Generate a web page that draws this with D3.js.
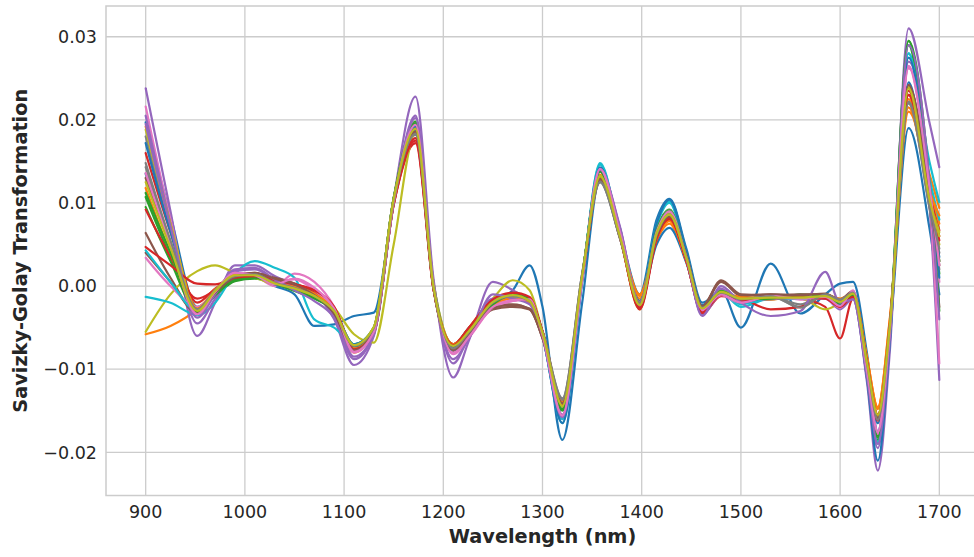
<!DOCTYPE html>
<meta charset="utf-8">
<style>

body {
    margin: 0;
    background: #fff;
}

text {
    font-family: "DejaVu Sans", sans-serif;
    fill: #262626;
}

.tick-label {
    font-size: 17.5px;
}

.axis-label {
    font-size: 19.3px;
    font-weight: bold;
}

.grid line {
    stroke: #cccccc;
    stroke-width: 1.3;
}

.spine {
    fill: none;
    stroke: #cccccc;
    stroke-width: 1.5;
}

.spectrum {
    fill: none;
    stroke-width: 2.2;
    stroke-linejoin: round;
    stroke-linecap: round;
}

</style>
<svg width="974" height="557"></svg>
<script src="https://d3js.org/d3.v7.min.js"></script>
<script>

var wavelengths = [900, 925, 952, 970, 990, 1010, 1030, 1050, 1070, 1090, 1110, 1130, 1150, 1172, 1190,
    1210, 1226, 1250, 1270, 1287, 1300, 1320, 1340, 1358, 1378, 1398, 1415, 1428, 1445, 1461, 1480,
    1500, 1530, 1560, 1585, 1600, 1613, 1627, 1638, 1650, 1669, 1690, 1700];

// Savizky-Golay transformed spectra, one array per sample
var s01 = [0.0197, 0.0085, -0.0025, -0.0008, 0.0010, 0.0012, 0.0000, -0.0010, -0.0048, -0.0046, -0.0036, -0.0032, 0.0100, 0.0195, 0.0005, -0.0070, -0.0050, -0.0020, -0.0005, 0.0025, -0.0025, -0.0185, -0.0020, 0.0130, 0.0065, -0.0010, 0.0080, 0.0105, 0.0045, -0.0020, -0.0005, -0.0050, 0.0027, -0.0033, -0.0010, 0.0003, 0.0005, -0.0080, -0.0175, -0.0060, 0.0190, 0.0070, -0.0010];
var s02 = [-0.0058, -0.0048, -0.0028, -0.0008, 0.0010, 0.0012, 0.0005, 0.0000, -0.0010, -0.0032, -0.0080, -0.0053, 0.0098, 0.0185, 0.0000, -0.0070, -0.0055, -0.0022, -0.0015, -0.0018, -0.0055, -0.0140, 0.0010, 0.0132, 0.0060, -0.0010, 0.0055, 0.0075, 0.0030, -0.0025, -0.0010, -0.0016, -0.0015, -0.0012, -0.0010, -0.0015, -0.0008, -0.0085, -0.0146, -0.0040, 0.0210, 0.0135, 0.0094];
var s03 = [0.0107, 0.0035, -0.0030, -0.0012, 0.0006, 0.0009, 0.0003, -0.0006, -0.0015, -0.0030, -0.0070, -0.0050, 0.0106, 0.0195, 0.0003, -0.0073, -0.0053, -0.0023, -0.0010, -0.0015, -0.0055, -0.0148, 0.0012, 0.0138, 0.0060, -0.0022, 0.0068, 0.0090, 0.0036, -0.0025, -0.0005, -0.0015, -0.0016, -0.0010, -0.0013, -0.0022, -0.0012, -0.0105, -0.0180, -0.0055, 0.0295, 0.0120, 0.0030];
var s04 = [0.0160, 0.0065, -0.0020, -0.0003, 0.0010, 0.0013, 0.0008, 0.0000, -0.0008, -0.0028, -0.0075, -0.0055, 0.0098, 0.0172, -0.0003, -0.0072, -0.0050, -0.0016, -0.0010, -0.0015, -0.0055, -0.0143, 0.0010, 0.0130, 0.0058, -0.0025, 0.0058, 0.0082, 0.0030, -0.0032, -0.0010, -0.0018, -0.0012, -0.0015, -0.0025, -0.0063, -0.0015, -0.0090, -0.0155, -0.0050, 0.0230, 0.0115, 0.0067];
var s05 = [0.0238, 0.0090, -0.0060, -0.0020, 0.0025, 0.0025, 0.0012, 0.0002, -0.0008, -0.0040, -0.0095, -0.0060, 0.0105, 0.0228, 0.0010, -0.0110, -0.0065, 0.0005, -0.0005, -0.0020, -0.0060, -0.0160, 0.0010, 0.0140, 0.0070, -0.0025, 0.0060, 0.0085, 0.0032, -0.0032, -0.0003, -0.0018, -0.0016, -0.0013, -0.0015, -0.0025, -0.0015, -0.0115, -0.0222, -0.0080, 0.0310, 0.0197, 0.0143];
var s06 = [0.0064, 0.0010, -0.0032, -0.0008, 0.0012, 0.0016, 0.0008, 0.0003, -0.0008, -0.0032, -0.0078, -0.0052, 0.0100, 0.0188, -0.0002, -0.0078, -0.0058, -0.0022, -0.0022, -0.0028, -0.0062, -0.0140, 0.0010, 0.0128, 0.0062, -0.0018, 0.0060, 0.0085, 0.0038, -0.0025, 0.0006, -0.0012, -0.0010, -0.0012, -0.0010, -0.0018, -0.0008, -0.0090, -0.0160, -0.0048, 0.0240, 0.0100, 0.0025];
var s07 = [0.0216, 0.0080, -0.0035, -0.0008, 0.0015, 0.0012, 0.0000, 0.0015, 0.0005, -0.0025, -0.0080, -0.0056, 0.0100, 0.0192, 0.0002, -0.0080, -0.0060, -0.0025, -0.0018, -0.0015, -0.0058, -0.0155, 0.0008, 0.0140, 0.0065, -0.0020, 0.0065, 0.0090, 0.0035, -0.0028, -0.0010, -0.0020, -0.0012, -0.0016, -0.0014, -0.0025, -0.0008, -0.0100, -0.0175, -0.0055, 0.0265, 0.0115, 0.0005];
var s08 = [0.0180, 0.0070, -0.0028, -0.0005, 0.0012, 0.0014, 0.0004, -0.0002, -0.0012, -0.0030, -0.0072, -0.0050, 0.0105, 0.0182, 0.0000, -0.0075, -0.0055, -0.0020, -0.0012, -0.0018, -0.0055, -0.0135, 0.0015, 0.0125, 0.0058, -0.0020, 0.0062, 0.0086, 0.0035, -0.0026, -0.0008, -0.0016, -0.0012, -0.0025, -0.0010, -0.0016, -0.0008, -0.0093, -0.0160, -0.0050, 0.0220, 0.0095, 0.0040];
var s09 = [-0.0055, -0.0010, 0.0018, 0.0025, 0.0016, 0.0010, 0.0002, -0.0003, -0.0010, -0.0026, -0.0058, -0.0068, 0.0050, 0.0185, 0.0005, -0.0070, -0.0050, -0.0015, 0.0007, -0.0005, -0.0055, -0.0145, 0.0012, 0.0132, 0.0060, -0.0028, 0.0063, 0.0087, 0.0034, -0.0026, -0.0006, -0.0015, -0.0015, -0.0015, -0.0028, -0.0020, -0.0008, -0.0090, -0.0158, -0.0052, 0.0240, 0.0105, 0.0050];
var s10 = [-0.0013, -0.0020, -0.0035, -0.0020, 0.0015, 0.0030, 0.0022, 0.0010, -0.0040, -0.0050, -0.0070, -0.0055, 0.0100, 0.0195, 0.0002, -0.0076, -0.0055, -0.0020, -0.0013, -0.0018, -0.0060, -0.0165, 0.0005, 0.0148, 0.0062, -0.0020, 0.0075, 0.0102, 0.0040, -0.0025, -0.0008, -0.0025, -0.0015, -0.0015, -0.0012, -0.0022, -0.0010, -0.0100, -0.0190, -0.0060, 0.0280, 0.0150, 0.0101];
var s11 = [0.0172, 0.0065, -0.0028, -0.0005, 0.0013, 0.0013, 0.0002, -0.0003, -0.0010, -0.0028, -0.0070, -0.0050, 0.0105, 0.0187, 0.0000, -0.0074, -0.0054, -0.0018, -0.0012, -0.0016, -0.0056, -0.0145, 0.0010, 0.0133, 0.0060, -0.0018, 0.0050, 0.0070, 0.0028, -0.0028, -0.0008, -0.0018, -0.0013, -0.0013, -0.0012, -0.0018, -0.0009, -0.0095, -0.0165, -0.0050, 0.0245, 0.0100, 0.0035];
var s12 = [0.0192, 0.0075, -0.0026, -0.0004, 0.0014, 0.0012, 0.0003, -0.0002, -0.0010, -0.0030, -0.0076, -0.0052, 0.0103, 0.0193, 0.0001, -0.0072, -0.0054, -0.0024, -0.0014, -0.0020, -0.0058, -0.0143, 0.0012, 0.0134, 0.0063, -0.0015, 0.0058, 0.0080, 0.0030, -0.0026, -0.0009, -0.0013, -0.0016, -0.0012, -0.0011, -0.0017, -0.0010, -0.0088, -0.0148, -0.0045, 0.0225, 0.0120, 0.0075];
var s13 = [0.0095, 0.0030, -0.0030, -0.0010, 0.0008, 0.0010, 0.0004, -0.0004, -0.0013, -0.0031, -0.0074, -0.0052, 0.0105, 0.0198, 0.0002, -0.0076, -0.0056, -0.0022, -0.0012, -0.0017, -0.0059, -0.0150, 0.0012, 0.0139, 0.0062, -0.0022, 0.0068, 0.0092, 0.0037, -0.0027, -0.0007, -0.0016, -0.0014, -0.0013, -0.0013, -0.0021, -0.0011, -0.0103, -0.0185, -0.0058, 0.0290, 0.0115, 0.0015];
var s14 = [0.0092, 0.0035, -0.0015, -0.0005, 0.0010, 0.0014, 0.0006, 0.0002, -0.0006, -0.0026, -0.0073, -0.0055, 0.0100, 0.0178, -0.0002, -0.0070, -0.0050, -0.0018, -0.0009, -0.0014, -0.0054, -0.0140, 0.0010, 0.0130, 0.0060, -0.0028, 0.0055, 0.0080, 0.0030, -0.0033, -0.0012, -0.0015, -0.0028, -0.0025, -0.0012, -0.0020, -0.0008, -0.0092, -0.0162, -0.0050, 0.0235, 0.0110, 0.0060];
var s15 = [0.0205, 0.0075, -0.0045, -0.0015, 0.0018, 0.0020, 0.0008, 0.0000, -0.0010, -0.0035, -0.0085, -0.0058, 0.0100, 0.0205, 0.0005, -0.0093, -0.0060, -0.0015, -0.0015, -0.0020, -0.0060, -0.0155, 0.0008, 0.0138, 0.0070, -0.0020, 0.0060, 0.0085, 0.0035, -0.0035, -0.0010, -0.0020, -0.0015, -0.0015, -0.0015, -0.0028, -0.0015, -0.0110, -0.0195, -0.0065, 0.0270, 0.0100, -0.0113];
var s16 = [0.0040, 0.0005, -0.0032, -0.0010, 0.0010, 0.0015, 0.0010, 0.0003, -0.0010, -0.0033, -0.0075, -0.0053, 0.0102, 0.0185, -0.0002, -0.0076, -0.0058, -0.0028, -0.0025, -0.0028, -0.0062, -0.0142, 0.0008, 0.0129, 0.0060, -0.0018, 0.0061, 0.0084, 0.0036, -0.0024, 0.0007, -0.0010, -0.0011, -0.0010, -0.0010, -0.0016, -0.0006, -0.0090, -0.0158, -0.0048, 0.0240, 0.0100, -0.0025];
var s17 = [0.0034, 0.0000, -0.0025, -0.0006, 0.0016, 0.0014, 0.0005, 0.0008, -0.0005, -0.0028, -0.0078, -0.0056, 0.0103, 0.0196, 0.0003, -0.0082, -0.0062, -0.0026, -0.0018, -0.0016, -0.0059, -0.0158, 0.0006, 0.0142, 0.0066, -0.0021, 0.0066, 0.0091, 0.0035, -0.0029, -0.0011, -0.0021, -0.0012, -0.0016, -0.0014, -0.0026, -0.0005, -0.0102, -0.0178, -0.0058, 0.0262, 0.0110, -0.0093];
var s18 = [0.0143, 0.0052, -0.0029, -0.0006, 0.0011, 0.0013, 0.0003, -0.0003, -0.0013, -0.0031, -0.0073, -0.0051, 0.0104, 0.0184, 0.0000, -0.0075, -0.0056, -0.0021, -0.0013, -0.0019, -0.0056, -0.0138, 0.0014, 0.0126, 0.0058, -0.0020, 0.0062, 0.0085, 0.0034, -0.0026, -0.0008, -0.0016, -0.0013, -0.0022, -0.0011, -0.0017, -0.0009, -0.0093, -0.0160, -0.0050, 0.0222, 0.0095, 0.0020];
var s19 = [0.0188, 0.0075, -0.0030, -0.0005, 0.0013, 0.0013, 0.0003, -0.0003, -0.0012, -0.0030, -0.0072, -0.0050, 0.0105, 0.0190, 0.0000, -0.0073, -0.0055, -0.0020, -0.0012, -0.0018, -0.0057, -0.0145, 0.0012, 0.0133, 0.0060, -0.0022, 0.0064, 0.0087, 0.0034, -0.0027, -0.0007, -0.0015, -0.0013, -0.0013, -0.0012, -0.0019, -0.0009, -0.0092, -0.0156, -0.0050, 0.0240, 0.0105, 0.0065];
var s20 = [0.0043, 0.0005, -0.0030, -0.0007, 0.0012, 0.0014, 0.0004, -0.0002, -0.0011, -0.0030, -0.0074, -0.0053, 0.0102, 0.0193, 0.0001, -0.0077, -0.0057, -0.0021, -0.0012, -0.0018, -0.0061, -0.0160, 0.0009, 0.0146, 0.0064, -0.0018, 0.0073, 0.0100, 0.0040, -0.0024, -0.0008, -0.0022, -0.0014, -0.0015, -0.0012, -0.0021, -0.0010, -0.0100, -0.0188, -0.0060, 0.0280, 0.0130, 0.0080];
var s21 = [0.0135, 0.0050, -0.0028, -0.0006, 0.0012, 0.0012, 0.0002, -0.0004, -0.0012, -0.0030, -0.0073, -0.0052, 0.0103, 0.0192, 0.0002, -0.0074, -0.0054, -0.0019, -0.0011, -0.0017, -0.0060, -0.0165, 0.0006, 0.0143, 0.0063, -0.0019, 0.0075, 0.0104, 0.0042, -0.0023, -0.0008, -0.0020, -0.0013, -0.0014, -0.0012, -0.0022, -0.0012, -0.0110, -0.0210, -0.0070, 0.0275, 0.0120, 0.0010];
var s22 = [0.0118, 0.0040, -0.0027, -0.0005, 0.0013, 0.0012, 0.0004, -0.0001, -0.0009, -0.0029, -0.0075, -0.0054, 0.0100, 0.0189, -0.0001, -0.0070, -0.0053, -0.0023, -0.0015, -0.0019, -0.0056, -0.0140, 0.0011, 0.0131, 0.0061, -0.0012, 0.0056, 0.0078, 0.0030, -0.0025, -0.0010, -0.0014, -0.0014, -0.0012, -0.0010, -0.0016, -0.0009, -0.0085, -0.0146, -0.0042, 0.0215, 0.0115, 0.0085];
var s23 = [0.0112, 0.0040, -0.0031, -0.0011, 0.0007, 0.0010, 0.0003, -0.0005, -0.0014, -0.0031, -0.0072, -0.0051, 0.0106, 0.0196, 0.0002, -0.0075, -0.0054, -0.0022, -0.0011, -0.0016, -0.0058, -0.0149, 0.0012, 0.0138, 0.0061, -0.0021, 0.0067, 0.0091, 0.0036, -0.0026, -0.0006, -0.0016, -0.0015, -0.0011, -0.0013, -0.0021, -0.0011, -0.0104, -0.0182, -0.0056, 0.0295, 0.0125, -0.0030];
var s24 = [0.0047, 0.0025, 0.0003, 0.0002, 0.0010, 0.0012, 0.0007, 0.0002, -0.0005, -0.0025, -0.0076, -0.0056, 0.0098, 0.0175, -0.0003, -0.0071, -0.0050, -0.0016, -0.0008, -0.0013, -0.0055, -0.0142, 0.0010, 0.0130, 0.0059, -0.0026, 0.0057, 0.0081, 0.0030, -0.0032, -0.0010, -0.0018, -0.0013, -0.0014, -0.0015, -0.0025, -0.0013, -0.0090, -0.0155, -0.0050, 0.0230, 0.0110, 0.0055];
var s25 = [0.0195, 0.0072, -0.0038, -0.0010, 0.0020, 0.0022, 0.0008, -0.0005, -0.0018, -0.0038, -0.0088, -0.0058, 0.0100, 0.0202, 0.0004, -0.0088, -0.0063, -0.0010, -0.0015, -0.0022, -0.0062, -0.0158, 0.0007, 0.0140, 0.0072, -0.0023, 0.0062, 0.0086, 0.0033, -0.0036, 0.0000, -0.0020, -0.0036, -0.0030, 0.0017, -0.0020, -0.0016, -0.0108, -0.0190, -0.0065, 0.0290, 0.0125, -0.0040];
var s26 = [0.0130, 0.0048, -0.0033, -0.0008, 0.0011, 0.0016, 0.0009, 0.0002, -0.0011, -0.0033, -0.0077, -0.0054, 0.0101, 0.0186, -0.0002, -0.0077, -0.0059, -0.0026, -0.0023, -0.0027, -0.0063, -0.0141, 0.0009, 0.0129, 0.0061, -0.0019, 0.0060, 0.0084, 0.0037, -0.0024, 0.0005, -0.0011, -0.0010, -0.0011, -0.0009, -0.0017, -0.0007, -0.0091, -0.0159, -0.0049, 0.0242, 0.0105, 0.0030];
var s27 = [0.0136, 0.0050, -0.0034, -0.0007, 0.0016, 0.0013, 0.0002, 0.0009, -0.0002, -0.0027, -0.0079, -0.0055, 0.0102, 0.0194, 0.0002, -0.0081, -0.0061, -0.0025, -0.0017, -0.0016, -0.0059, -0.0156, 0.0007, 0.0141, 0.0065, -0.0020, 0.0065, 0.0090, 0.0035, -0.0028, -0.0010, -0.0020, -0.0012, -0.0015, -0.0013, -0.0024, -0.0006, -0.0101, -0.0176, -0.0056, 0.0264, 0.0120, 0.0025];
var s28 = [0.0148, 0.0055, -0.0028, -0.0005, 0.0012, 0.0014, 0.0004, -0.0002, -0.0012, -0.0030, -0.0072, -0.0050, 0.0105, 0.0183, 0.0000, -0.0075, -0.0055, -0.0020, -0.0012, -0.0018, -0.0055, -0.0136, 0.0015, 0.0125, 0.0058, -0.0020, 0.0062, 0.0086, 0.0035, -0.0026, -0.0008, -0.0016, -0.0012, -0.0026, -0.0010, -0.0016, -0.0008, -0.0093, -0.0161, -0.0050, 0.0220, 0.0098, 0.0045];
var s29 = [0.0125, 0.0046, -0.0030, -0.0006, 0.0013, 0.0013, 0.0003, -0.0003, -0.0012, -0.0030, -0.0071, -0.0049, 0.0105, 0.0189, 0.0000, -0.0072, -0.0054, -0.0019, -0.0011, -0.0018, -0.0056, -0.0144, 0.0012, 0.0132, 0.0060, -0.0023, 0.0063, 0.0086, 0.0034, -0.0027, -0.0007, -0.0015, -0.0014, -0.0014, -0.0012, -0.0019, -0.0009, -0.0092, -0.0155, -0.0050, 0.0238, 0.0105, 0.0060];

var spectra = [s01, s02, s03, s04, s05, s06, s07, s08, s09, s10, s11, s12, s13, s14, s15,
    s16, s17, s18, s19, s20, s21, s22, s23, s24, s25, s26, s27, s28, s29];

// Axis limits and ticks
var xLimits = [860, 1740];
var yLimits = [-0.0252, 0.0337];
var xTicks = [900, 1000, 1100, 1200, 1300, 1400, 1500, 1600, 1700];
var yTicks = [-0.02, -0.01, 0.00, 0.01, 0.02, 0.03];

spectra.forEach(function(s, i) {
    if (s.length != wavelengths.length) throw new Error("spectrum " + (i + 1) + " has " + s.length + " values");
});

var svg = d3.select("svg"),
    margin = {top: 6, left: 106},
    plotRight = 979,
    plotBottom = 495.5;

var x = d3.scaleLinear()
    .domain(xLimits)
    .range([margin.left, plotRight]);

var y = d3.scaleLinear()
    .domain(yLimits)
    .range([plotBottom, margin.top]);

var color = d3.scaleOrdinal(d3.schemeCategory10);

// Grid
var grid = svg.append("g").attr("class", "grid");

grid.selectAll(".vline")
    .data(xTicks)
    .enter().append("line")
        .attr("x1", function(d) { return x(d); })
        .attr("x2", function(d) { return x(d); })
        .attr("y1", margin.top)
        .attr("y2", plotBottom);

grid.selectAll(".hline")
    .data(yTicks)
    .enter().append("line")
        .attr("x1", margin.left)
        .attr("x2", plotRight)
        .attr("y1", function(d) { return y(d); })
        .attr("y2", function(d) { return y(d); });

// Spectra
var line = d3.line()
    .curve(d3.curveMonotoneX)
    .x(function(d, i) { return x(wavelengths[i]); })
    .y(function(d) { return y(d); });

svg.append("g")
    .selectAll("path")
    .data(spectra)
    .enter().append("path")
        .attr("class", "spectrum")
        .attr("stroke", function(d, i) { return color(i % 10); })
        .attr("d", line);

// Spines
svg.append("rect")
    .attr("class", "spine")
    .attr("x", margin.left)
    .attr("y", margin.top)
    .attr("width", plotRight - margin.left)
    .attr("height", plotBottom - margin.top);

// Tick labels
svg.append("g")
    .selectAll("text")
    .data(xTicks)
    .enter().append("text")
        .attr("class", "tick-label")
        .attr("x", function(d) { return x(d); })
        .attr("y", plotBottom + 22)
        .attr("text-anchor", "middle")
        .text(function(d) { return d; });

var yFormat = d3.format(".2f");

svg.append("g")
    .selectAll("text")
    .data(yTicks)
    .enter().append("text")
        .attr("class", "tick-label")
        .attr("x", 97)
        .attr("y", function(d) { return y(d); })
        .attr("dy", "0.36em")
        .attr("text-anchor", "end")
        .text(function(d) { return yFormat(d); });

// Axis labels
svg.append("text")
    .attr("class", "axis-label")
    .attr("x", x(1300))
    .attr("y", 543)
    .attr("text-anchor", "middle")
    .text("Wavelength (nm)");

svg.append("text")
    .attr("class", "axis-label")
    .attr("transform", "translate(26.5," + ((margin.top + plotBottom) / 2) + ") rotate(-90)")
    .attr("text-anchor", "middle")
    .text("Savizky-Golay Transformation");

</script>
